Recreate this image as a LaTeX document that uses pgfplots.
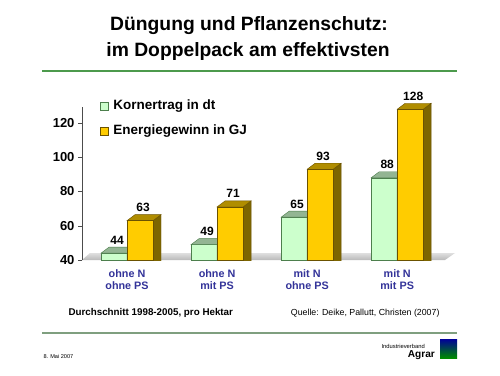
\documentclass[border=0pt]{standalone}
\usepackage{pgfplots}
\pgfplotsset{compat=1.18}
\usepackage{fontspec}
\setmainfont{Liberation Sans}
\definecolor{gfront}{HTML}{CCFFCC}
\definecolor{gedge}{HTML}{4D7F4D}
\definecolor{gtop}{HTML}{93B593}
\definecolor{gside}{HTML}{6F956F}
\definecolor{yfront}{HTML}{FFCC00}
\definecolor{yedge}{HTML}{6B5200}
\definecolor{ytop}{HTML}{B08D00}
\definecolor{yside}{HTML}{7D6500}
\definecolor{tickblue}{HTML}{333399}
\definecolor{rulegreen}{HTML}{4C9A4C}
\definecolor{rulegray}{HTML}{7F9F7F}
\pgfdeclareplotmark{boxG}{%
  \pgfsetlinewidth{0.4pt}%
  \pgfpathmoveto{\pgfqpoint{0pt}{0pt}}%
  \pgfpathlineto{\pgfqpoint{8pt}{6pt}}%
  \pgfpathlineto{\pgfqpoint{8pt}{-200pt}}%
  \pgfpathlineto{\pgfqpoint{0pt}{-206pt}}%
  \pgfpathclose
  \pgfsetfillcolor{gside}\pgfsetstrokecolor{gedge}%
  \pgfusepath{fill,stroke}%
  \pgfpathmoveto{\pgfqpoint{-26pt}{0pt}}%
  \pgfpathlineto{\pgfqpoint{0pt}{0pt}}%
  \pgfpathlineto{\pgfqpoint{8pt}{6pt}}%
  \pgfpathlineto{\pgfqpoint{-18pt}{6pt}}%
  \pgfpathclose
  \pgfsetfillcolor{gtop}\pgfsetstrokecolor{gedge}%
  \pgfusepath{fill,stroke}%
}
\pgfdeclareplotmark{boxY}{%
  \pgfsetlinewidth{0.4pt}%
  \pgfpathmoveto{\pgfqpoint{26pt}{0pt}}%
  \pgfpathlineto{\pgfqpoint{34pt}{6pt}}%
  \pgfpathlineto{\pgfqpoint{34pt}{-200pt}}%
  \pgfpathlineto{\pgfqpoint{26pt}{-206pt}}%
  \pgfpathclose
  \pgfsetfillcolor{yside}\pgfsetstrokecolor{yedge}%
  \pgfusepath{fill,stroke}%
  \pgfpathmoveto{\pgfqpoint{0pt}{0pt}}%
  \pgfpathlineto{\pgfqpoint{26pt}{0pt}}%
  \pgfpathlineto{\pgfqpoint{34pt}{6pt}}%
  \pgfpathlineto{\pgfqpoint{8pt}{6pt}}%
  \pgfpathclose
  \pgfsetfillcolor{ytop}\pgfsetstrokecolor{yedge}%
  \pgfusepath{fill,stroke}%
}
\begin{document}
\begin{tikzpicture}
\path[use as bounding box, fill=white] (0,0) rectangle (500pt,-375pt);
\node[font=\bfseries\fontsize{19.3}{22}\selectfont] at (249pt,-26pt) {Düngung und Pflanzenschutz:};
\node[font=\bfseries\fontsize{19.3}{22}\selectfont] at (248pt,-52pt) {im Doppelpack am effektivsten};
\draw[rulegreen, line width=2pt] (42pt,-71pt) -- (457pt,-71pt);
\draw[rulegray, line width=2pt] (42pt,-333pt) -- (457pt,-333pt);
\shade[top color=gray!25, bottom color=gray!55] (82pt,-260pt) -- (445pt,-260pt) -- (455pt,-253pt) -- (90pt,-253pt) -- cycle;
\begin{axis}[
  at={(82pt,-260pt)}, anchor=south west,
  scale only axis, width=371pt, height=173pt,
  xmin=-0.5, xmax=3.62, ymin=40, ymax=141,
  axis x line=bottom, axis y line=left,
  axis line style={-},
  x axis line style={draw=none},
  y axis line style={draw=gray!60!black, shorten >=20pt},
  xtick={0,1,2,3},
  xticklabels={{ohne N\\ohne PS},{ohne N\\mit PS},{mit N\\ohne PS},{mit N\\mit PS}},
  xticklabel style={align=center, text=tickblue, font=\bfseries\fontsize{10.8}{12.3}\selectfont, yshift=-2pt},
  xtick style={draw=none},
  ytick={40,60,80,100,120},
  yticklabel style={font=\bfseries\fontsize{13}{15}\selectfont},
  /pgf/number format/assume math mode=true,
  tick align=outside, major tick length=4pt,
  ytick style={draw=gray!60!black},
  clip marker paths=true,
  legend style={at={(axis description cs:0.04,0.942)}, anchor=north west, draw=none, fill=none,
    font=\bfseries\fontsize{13.5}{15}\selectfont, row sep=12pt, column sep=5pt,
    nodes={inner sep=0pt, text height=10pt, text depth=3pt}},
  legend cell align=left,
  legend image code/.code={\draw[#1] (0pt,-4pt) rectangle (8pt,4pt);},
  every node near coord/.append style={font=\bfseries\fontsize{12}{14}\selectfont, text=black, yshift=5.5pt},
]
\addplot[ybar, bar width=26pt, bar shift=-13pt, fill=gfront, draw=gedge]
  coordinates {(0,44) (1,49) (2,65) (3,88)};
\addlegendentry{Kornertrag in dt}
\addplot[only marks, mark=boxG, forget plot] coordinates {(0,44) (1,49) (2,65) (3,88)};
\addplot[only marks, mark=boxY, forget plot] coordinates {(0,63) (1,71) (2,93) (3,128)};
\addplot[ybar, bar width=26pt, bar shift=13pt, fill=yfront, draw=yedge, nodes near coords,
  every node near coord/.append style={xshift=16pt}]
  coordinates {(0,63) (1,71) (2,93) (3,128)};
\addlegendentry{Energiegewinn in GJ}
\addplot[ybar, bar width=26pt, bar shift=-13pt, draw=none, fill=none, nodes near coords, forget plot,
  every node near coord/.append style={xshift=-10pt}]
  coordinates {(0,44) (1,49) (2,65) (3,88)};
\end{axis}
\node[font=\bfseries\fontsize{9.8}{12}\selectfont, anchor=west] at (65pt,-313pt) {Durchschnitt 1998-2005, pro Hektar};
\node[font=\fontsize{8.8}{11}\selectfont, anchor=east] at (443pt,-313pt) {Quelle: Deike, Pallutt, Christen (2007)};
\node[font=\fontsize{5.6}{7}\selectfont, anchor=west] at (40pt,-356pt) {8. Mai 2007};
\node[font=\fontsize{5.8}{7}\selectfont, anchor=east, inner sep=0pt] at (425pt,-346pt) {Industrieverband};
\node[font=\bfseries\fontsize{10.1}{12}\selectfont, anchor=east, inner sep=0pt] at (435pt,-355pt) {Agrar};
\shade[top color=blue!60!black, bottom color=green!55!black] (440pt,-339pt) rectangle (457pt,-358pt);
\end{tikzpicture}
\end{document}
